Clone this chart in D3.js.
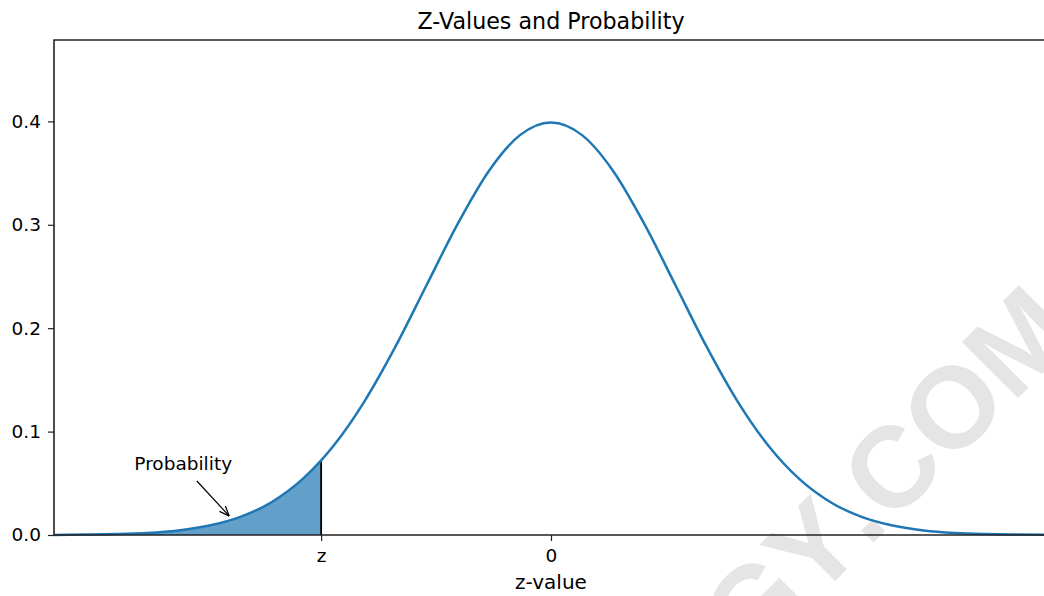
<!DOCTYPE html>
<html>
<head>
<meta charset="utf-8">
<script src="https://cdn.jsdelivr.net/npm/d3@7"></script>
<style>
  body { margin: 0; background: #fff; }
  svg { display: block; font-family: "DejaVu Sans", sans-serif; }
</style>
</head>
<body>
<script>
// density curve points
const zVals   = [-4, -3.75, -3.5, -3.25, -3, -2.75, -2.5, -2.25, -2, -1.85, -1.75, -1.5, -1.25, -1, -0.75, -0.5, -0.25, 0,
                 0.25, 0.5, 0.75, 1, 1.25, 1.5, 1.75, 2, 2.25, 2.5, 2.75, 3, 3.25, 3.5, 3.75, 4];
const density = [0.0001, 0.0004, 0.0009, 0.0020, 0.0044, 0.0091, 0.0175, 0.0317, 0.0540, 0.0721, 0.0863, 0.1295, 0.1826, 0.2420, 0.3011, 0.3521, 0.3867, 0.3989,
                 0.3867, 0.3521, 0.3011, 0.2420, 0.1826, 0.1295, 0.0863, 0.0540, 0.0317, 0.0175, 0.0091, 0.0044, 0.0020, 0.0009, 0.0004, 0.0001];

const zCut = -1.85;             // the "z" marker
const xTickVals = [zCut, 0];
const xTickLabels = ["z", "0"];
const yTickVals = [0, 0.1, 0.2, 0.3, 0.4];

const annoText = "Probability";
const annoTextAt = [-2.96, 0.0628];
const annoArrowFrom = [-2.85, 0.0522];
const annoArrowTo = [-2.59, 0.0184];

const watermarkA = "SIMPLYPSYCHOLOGY";
const watermarkB = ".COM";

const width = 1044, height = 596;
const mLeft = 54, mRight = 1048, mTop = 40, mBottom = 535;

const pts = zVals.map((z, i) => ({z: z, p: density[i]}));

const x = d3.scaleLinear().domain([-4, 4]).range([mLeft, mRight]);
const y = d3.scaleLinear().domain([0, 0.4787]).range([mBottom, mTop]);

const svg = d3.select("body").append("svg")
    .attr("width", width)
    .attr("height", height);

// watermark behind everything
svg.append("g")
    .attr("transform", "translate(868,548) rotate(-45)")
    .call(g => g.append("text")
        .attr("text-anchor", "end")
        .text(watermarkA))
    .call(g => g.append("text")
        .attr("text-anchor", "start")
        .text(watermarkB))
    .selectAll("text")
    .attr("fill", "#e5e5e5")
    .attr("font-family", "'Liberation Sans', Arial, sans-serif")
    .attr("font-weight", "bold")
    .attr("font-size", 115);

// shaded tail
const tail = pts.filter(d => d.z <= zCut);
svg.append("path")
    .datum(tail)
    .attr("fill", "#1f77b4")
    .attr("fill-opacity", 0.7)
    .attr("d", d3.area().curve(d3.curveMonotoneX)
        .x(d => x(d.z)).y0(y(0)).y1(d => y(d.p)));

// vertical line at z
svg.append("line")
    .attr("x1", x(zCut)).attr("x2", x(zCut))
    .attr("y1", y(0)).attr("y2", y(tail[tail.length - 1].p))
    .attr("stroke", "#000")
    .attr("stroke-width", 1.8);

// curve
svg.append("path")
    .datum(pts)
    .attr("fill", "none")
    .attr("stroke", "#1f77b4")
    .attr("stroke-width", 2.5)
    .attr("d", d3.line().curve(d3.curveMonotoneX)
        .x(d => x(d.z)).y(d => y(d.p)));

// axes
const ax = svg.append("g")
    .attr("transform", `translate(0,${mBottom})`)
    .call(d3.axisBottom(x).tickValues(xTickVals)
        .tickFormat((d, i) => xTickLabels[i]).tickSizeOuter(0).tickSize(6).tickPadding(8));
const ay = svg.append("g")
    .attr("transform", `translate(${mLeft},0)`)
    .call(d3.axisLeft(y).tickValues(yTickVals)
        .tickFormat(d3.format(".1f")).tickSizeOuter(0).tickSize(6).tickPadding(7));
[ax, ay].forEach(a => {
    a.select(".domain").remove();
    a.selectAll(".tick line").attr("stroke", "#222").attr("stroke-width", 1.2);
    a.selectAll(".tick text").attr("font-size", 18.5).attr("fill", "#000")
        .attr("font-family", "'DejaVu Sans', sans-serif");
});

// spines: left, bottom, top (right spine lies off the page)
svg.append("path")
    .attr("d", `M${mRight},${mTop}H${mLeft}V${mBottom}H${mRight}`)
    .attr("fill", "none")
    .attr("stroke", "#222")
    .attr("stroke-width", 1.6);

// title and label
svg.append("text")
    .attr("x", (mLeft + mRight) / 2).attr("y", 29)
    .attr("text-anchor", "middle")
    .attr("font-size", 22.2)
    .text("Z-Values and Probability");
svg.append("text")
    .attr("x", (mLeft + mRight) / 2).attr("y", 589)
    .attr("text-anchor", "middle")
    .attr("font-size", 20)
    .text("z-value");

// annotation
svg.append("defs").append("marker")
    .attr("id", "arrow")
    .attr("viewBox", "0 0 10 10")
    .attr("refX", 10).attr("refY", 5)
    .attr("markerWidth", 10).attr("markerHeight", 10)
    .attr("markerUnits", "userSpaceOnUse")
    .attr("orient", "auto")
    .append("path")
    .attr("d", "M0,1 L10,5 L0,9")
    .attr("fill", "none")
    .attr("stroke", "#000")
    .attr("stroke-width", 1.2);
svg.append("line")
    .attr("x1", x(annoArrowFrom[0])).attr("y1", y(annoArrowFrom[1]))
    .attr("x2", x(annoArrowTo[0])).attr("y2", y(annoArrowTo[1]))
    .attr("stroke", "#000")
    .attr("stroke-width", 1.2)
    .attr("marker-end", "url(#arrow)");
svg.append("text")
    .attr("x", x(annoTextAt[0])).attr("y", y(annoTextAt[1]))
    .attr("text-anchor", "middle")
    .attr("font-size", 18.5)
    .text(annoText);
</script>
</body>
</html>
